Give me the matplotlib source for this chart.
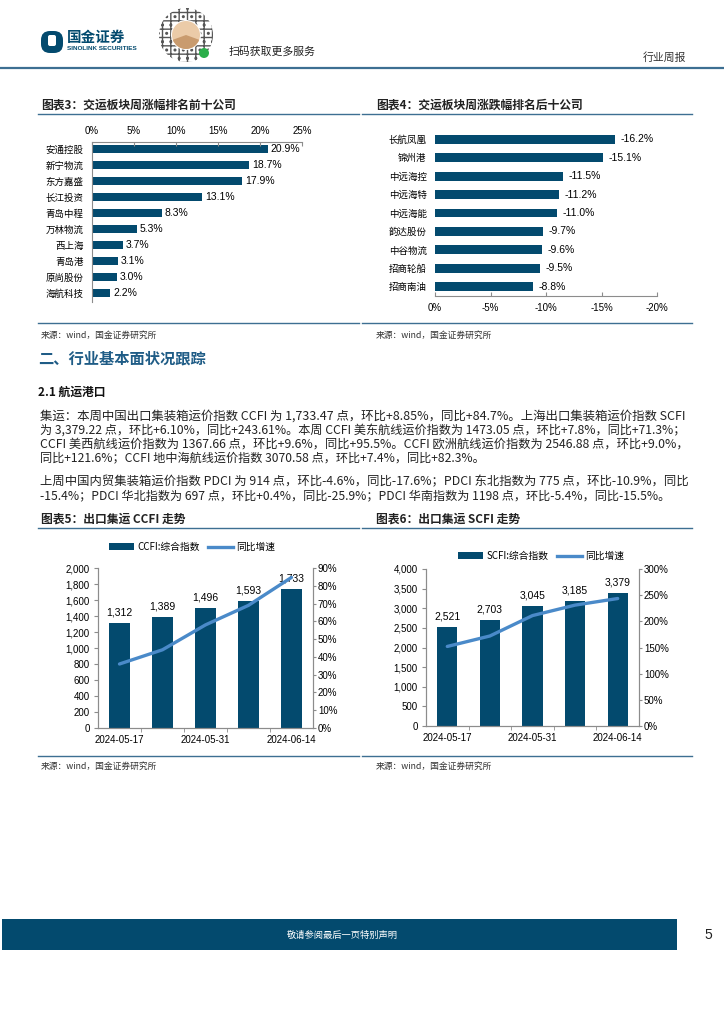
import matplotlib
matplotlib.use("Agg")
import matplotlib.pyplot as plt
from matplotlib.patches import Rectangle, Circle, Wedge, Patch, FancyBboxPatch
from matplotlib.lines import Line2D
import numpy as np

plt.rcParams['font.family'] = ['Liberation Sans', 'Noto Sans CJK SC', 'DejaVu Sans']
CJK = ['Noto Sans CJK SC', 'DejaVu Sans']

# ---- data ----
top_names = ['安通控股', '新宁物流', '东方嘉盛', '长江投资', '青岛中程',
             '万林物流', '西上海', '青岛港', '原尚股份', '海航科技']
top_vals = [20.9, 18.7, 17.9, 13.1, 8.3, 5.3, 3.7, 3.1, 3.0, 2.2]

bottom_names = ['长航凤凰', '锦州港', '中远海控', '中远海特', '中远海能',
                '韵达股份', '中谷物流', '招商轮船', '招商南油']
bottom_vals = [-16.2, -15.1, -11.5, -11.2, -11.0, -9.7, -9.6, -9.5, -8.8]

weeks = ['2024-05-17', '2024-05-24', '2024-05-31', '2024-06-07', '2024-06-14']
ccfi = [1312, 1389, 1496, 1593, 1733]
ccfi_yoy = [36, 44, 58, 69, 84.7]
scfi = [2521, 2703, 3045, 3185, 3379]
scfi_yoy = [152, 172, 211, 231, 243.6]

body_lines = [
    "集运：本周中国出口集装箱运价指数 CCFI 为 1,733.47 点，环比+8.85%，同比+84.7%。上海出口集装箱运价指数 SCFI",
    "为 3,379.22 点，环比+6.10%，同比+243.61%。本周 CCFI 美东航线运价指数为 1473.05 点，环比+7.8%，同比+71.3%；",
    "CCFI 美西航线运价指数为 1367.66 点，环比+9.6%，同比+95.5%。CCFI 欧洲航线运价指数为 2546.88 点，环比+9.0%，",
    "同比+121.6%；CCFI 地中海航线运价指数 3070.58 点，环比+7.4%，同比+82.3%。",
    "上周中国内贸集装箱运价指数 PDCI 为 914 点，环比-4.6%，同比-17.6%；PDCI 东北指数为 775 点，环比-10.9%，同比",
    "-15.4%；PDCI 华北指数为 697 点，环比+0.4%，同比-25.9%；PDCI 华南指数为 1198 点，环比-5.4%，同比-15.5%。",
]

BAR = '#034A6E'
LINE = '#4A8AC9'
RULE = '#3D6F92'
GRAY = '#8C8C8C'
SOURCE = '来源：wind，国金证券研究所'

W, H = 724, 1024
fig = plt.figure(figsize=(7.24, 10.24), dpi=100)


def box(x0, y0, x1, y1):
    return [x0 / W, 1 - y1 / H, (x1 - x0) / W, (y1 - y0) / H]


def hline(x0, x1, y, color=RULE, lw=1.0):
    fig.add_artist(Line2D([x0 / W, x1 / W], [1 - y / H, 1 - y / H],
                          transform=fig.transFigure, color=color, lw=lw))


def put(x, y, s, **kw):
    kw.setdefault('family', CJK)
    return fig.text(x / W, 1 - y / H, s, va='center', **kw)


def style_spines(ax, show):
    for k, sp in ax.spines.items():
        sp.set_visible(k in show)
        sp.set_color(GRAY)
        sp.set_linewidth(0.8)


# ---- page header ----
ax_logo = fig.add_axes(box(38, 28, 66, 56))
ax_logo.set_xlim(0, 28)
ax_logo.set_ylim(28, 0)
ax_logo.axis('off')
ax_logo.add_patch(FancyBboxPatch((3, 3), 22, 22, boxstyle='round,pad=0,rounding_size=9',
                                 fc=BAR, ec='none'))
ax_logo.add_patch(FancyBboxPatch((10, 7), 8, 11, boxstyle='round,pad=0,rounding_size=2',
                                 fc='white', ec='none'))
put(67, 37, '国金证券', fontsize=10.5, weight='bold', color=BAR)
put(67, 48, 'SINOLINK SECURITIES', fontsize=4.6, weight='bold', color=BAR,
    family=['Liberation Sans'])

ax_qr = fig.add_axes(box(156, 6, 216, 64))
ax_qr.set_xlim(0, 60)
ax_qr.set_ylim(58, 0)
ax_qr.axis('off')
ax_qr.add_patch(Wedge((30, 29), 27, 0, 360, width=12, fc='white', ec='#555555',
                      hatch='++..', lw=0))
ax_qr.add_patch(Circle((30, 29), 14, fc='#EBCBA8', ec='none'))
ax_qr.add_patch(Wedge((30, 29), 14, 20, 160, fc='#C99B6E', ec='none'))
ax_qr.add_patch(Circle((48, 47), 5, fc='#2BAE4A', ec='none'))
put(229, 52, '扫码获取更多服务', fontsize=7.8, color='#222222')
put(643, 58, '行业周报', fontsize=7.8, color='#333333')
hline(0, 724, 68, lw=1.6)

# ---- titles, rules and sources around the charts ----
put(41, 105, '图表3：交运板块周涨幅排名前十公司', fontsize=8.5, weight='bold', color='#222222')
put(376, 105, '图表4：交运板块周涨跌幅排名后十公司', fontsize=8.5, weight='bold', color='#222222')
put(41, 519, '图表5：出口集运 CCFI 走势', fontsize=8.5, weight='bold', color='#222222')
put(376, 519, '图表6：出口集运 SCFI 走势', fontsize=8.5, weight='bold', color='#222222')
for y in (114, 323, 528, 756):
    hline(38, 359, y)
    hline(362, 692, y)
for x in (41, 376):
    put(x, 335, SOURCE, fontsize=6.3, color='#333333')
    put(x, 766, SOURCE, fontsize=6.3, color='#333333')

# ---- chart 3: top ten ----
ax3 = fig.add_axes(box(92, 142, 302, 302))
y3 = np.arange(len(top_names))
b3 = ax3.barh(y3, top_vals, height=0.46, color=BAR)
ax3.set_xlim(0, 25)
ax3.set_ylim(9.56, -0.44)
ax3.set_xticks(np.arange(0, 26, 5))
ax3.set_xticklabels([f'{v}%' for v in range(0, 26, 5)])
ax3.xaxis.tick_top()
ax3.tick_params(axis='x', direction='in', length=3, color=GRAY, labelsize=7, pad=4)
ax3.set_yticks(y3)
ax3.set_yticklabels(top_names, family=CJK)
ax3.tick_params(axis='y', length=0, labelsize=6.8, pad=6)
ax3.bar_label(b3, fmt='{:.1f}%', padding=2, fontsize=7.5)
style_spines(ax3, ['top', 'left'])

# ---- chart 4: bottom ten ----
ax4 = fig.add_axes(box(435, 130, 657, 296))
y4 = np.arange(len(bottom_names))
b4 = ax4.barh(y4, bottom_vals, height=0.48, color=BAR)
ax4.set_xlim(0, -20)
ax4.set_ylim(8.5, -0.5)
ax4.set_xticks(np.arange(0, -21, -5))
ax4.set_xticklabels([f'{v}%' for v in range(0, -21, -5)])
ax4.tick_params(axis='x', direction='in', length=3, color=GRAY, labelsize=7, pad=5)
ax4.set_yticks(y4)
ax4.set_yticklabels(bottom_names, family=CJK)
ax4.tick_params(axis='y', length=0, labelsize=6.8, pad=6)
ax4.bar_label(b4, fmt='{:.1f}%', padding=4, fontsize=7.5)
style_spines(ax4, ['bottom'])


# ---- charts 5 and 6: index bars + yoy line ----
def index_chart(rect, vals, yoy, lmax, lstep, rmax, rstep, name, legend_xy):
    ax = fig.add_axes(box(*rect))
    x = np.arange(len(weeks))
    bars = ax.bar(x, vals, width=0.47, color=BAR)
    ax.set_xlim(-0.5, len(weeks) - 0.5)
    ax.set_ylim(0, lmax)
    ax.set_yticks(np.arange(0, lmax + 1, lstep))
    ax.yaxis.set_major_formatter(matplotlib.ticker.StrMethodFormatter('{x:,.0f}'))
    ax.set_xticks(x[::2])
    ax.set_xticklabels(weeks[::2])
    ax.set_xticks(x[:-1] + 0.5, minor=True)
    ax.tick_params(axis='x', which='major', length=0, labelsize=7, pad=5)
    ax.tick_params(axis='x', which='minor', length=3, color=GRAY)
    ax.tick_params(axis='y', length=3, color=GRAY, labelsize=7, pad=3)
    ax.bar_label(bars, fmt='{:,.0f}', padding=4, fontsize=7.5)
    style_spines(ax, ['left', 'bottom', 'right'])

    ax2 = ax.twinx()
    ax2.plot(x, yoy, color=LINE, lw=2.4, solid_capstyle='round')
    ax2.set_ylim(0, rmax)
    ax2.set_yticks(np.arange(0, rmax + 1, rstep))
    ax2.yaxis.set_major_formatter(matplotlib.ticker.StrMethodFormatter('{x:.0f}%'))
    ax2.tick_params(axis='y', length=2, color=GRAY, labelsize=7, pad=1.5)
    style_spines(ax2, ['left', 'bottom', 'right'])

    handles = [Patch(facecolor=BAR), Line2D([], [], color=LINE, lw=2.4)]
    fig.legend(handles, [name, '同比增速'], loc='center',
               bbox_to_anchor=(legend_xy[0] / W, 1 - legend_xy[1] / H),
               ncol=2, frameon=False, fontsize=7, handlelength=2.6, handleheight=0.7,
               columnspacing=0.9, handletextpad=0.3, prop={'family': CJK, 'size': 7})
    return ax


index_chart((98, 568, 313, 728), ccfi, ccfi_yoy, 2000, 200, 90, 10,
            'CCFI:综合指数', (192, 547))
index_chart((426, 569, 639, 726), scfi, scfi_yoy, 4000, 500, 300, 50,
            'SCFI:综合指数', (541, 556))

# ---- section text ----
put(38, 358, '二、行业基本面状况跟踪', fontsize=11, weight='bold', color='#1F5C86')
put(38, 392, '2.1 航运港口', fontsize=8.5, weight='bold', color='#111111')
body_y = [416, 430, 444, 458, 482, 496]
body_end = [686, 686, 686, 484, 686, 668]
texts = []
for s, y in zip(body_lines, body_y):
    texts.append(put(40, y, s, fontsize=7.5, color='#222222'))

# stretch each line to its measured width (the page text is justified)
fig.canvas.draw()
renderer = fig.canvas.get_renderer()
for t, xend in zip(texts, body_end):
    w = t.get_window_extent(renderer).width
    t.set_fontsize(t.get_fontsize() * (xend - 40) / w)

# ---- footer ----
fig.add_artist(Rectangle((2 / W, 1 - 950 / H), 675 / W, 31 / H,
                         transform=fig.transFigure, fc=BAR, ec='none'))
put(342, 935, '敬请参阅最后一页特别声明', ha='center', fontsize=6.7, color='white')
put(708, 935, '5', ha='center', fontsize=10, color='#222222', family=['Liberation Sans'])

fig.savefig('out.png', dpi=100)
